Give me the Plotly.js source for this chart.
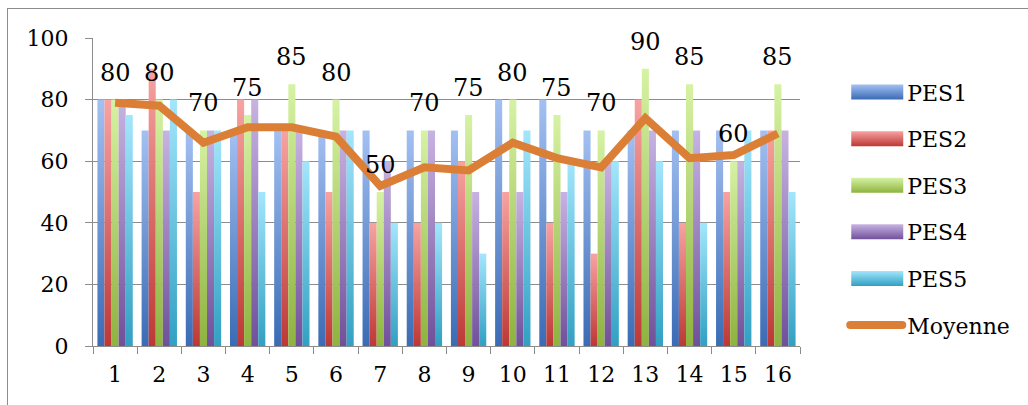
<!DOCTYPE html>
<html><head><meta charset="utf-8">
<script src="https://cdn.plot.ly/plotly-3.0.1.min.js"></script>
<style>
html,body{margin:0;padding:0;background:#fff;}
#frame{position:absolute;left:7px;top:8px;width:1030px;height:420px;border:1px solid #8c8c8c;box-sizing:border-box;}
#chart{position:absolute;left:0;top:0;width:1028px;height:405px;}
</style></head>
<body>
<div id="frame"></div>
<div id="chart"></div>
<script>
const categories = ['1','2','3','4','5','6','7','8','9','10','11','12','13','14','15','16'];
const PES1 = [80,70,70,70,70,70,70,70,70,80,80,70,70,70,70,70];
const PES2 = [80,90,50,80,70,50,40,40,60,50,40,30,80,40,50,70];
const PES3 = [80,80,70,75,85,80,50,70,75,80,75,70,90,85,60,85];
const PES4 = [80,70,70,80,70,70,60,70,50,50,50,60,70,70,60,70];
const PES5 = [75,80,70,50,60,70,40,40,30,70,60,60,60,40,70,50];
const Moyenne = [79,78,66,71,71,68,52,58,57,66,61,58,74,61,62,69];
const seriesNames = ['PES1','PES2','PES3','PES4','PES5'];
const seriesData = [PES1,PES2,PES3,PES4,PES5];
const gradTop = ['#a3c0f2','#f7a3a2','#d6f2a4','#c7b3e2','#a3e6fc'];
const gradBot = ['#3a6bb4','#bd3835','#8eb33f','#70509a','#31a0c2'];
const lineColor = '#dc7f36';

const FONT = 'DejaVu Serif';
const traces = seriesNames.map((n,i)=>({
  type:'bar', name:n, x:categories, y:seriesData[i],
  marker:{color:gradBot[i], line:{width:0}},
  legendgroup:n, hoverinfo:'skip'
}));
traces.push({
  type:'scatter', mode:'lines', name:'Moyenne', x:categories, y:Moyenne,
  line:{color:lineColor, width:8}, legendgroup:'Moyenne', hoverinfo:'skip'
});

const annotations = categories.map((c,i)=>({
  x:i, y:PES3[i], xref:'x', yref:'y', text:String(PES3[i]),
  showarrow:false, yshift:27, font:{family:FONT, size:24, color:'#000'}
}));

const layout = {
  width:1028, height:405,
  margin:{l:93, r:228, t:38, b:59},
  paper_bgcolor:'rgba(0,0,0,0)', plot_bgcolor:'rgba(0,0,0,0)',
  barmode:'group', bargap:0.2, bargroupgap:0,
  font:{family:FONT, size:22, color:'#000'},
  xaxis:{type:'category', range:[-0.5,15.5], showgrid:false, showline:true, linecolor:'#8c8c8c', linewidth:1,
    ticks:'outside', tickson:'boundaries', ticklen:7, tickcolor:'#8c8c8c',
    tickfont:{family:FONT, size:22}, zeroline:false, ticklabelstandoff:9},
  yaxis:{range:[0,100], tickvals:[0,20,40,60,80,100], showgrid:true, gridcolor:'#8c8c8c', gridwidth:1,
    showline:true, linecolor:'#8c8c8c', ticks:'outside', ticklen:7, tickcolor:'#8c8c8c',
    tickfont:{family:FONT, size:22}, zeroline:false, ticklabelstandoff:12},
  legend:{x:1.064, xanchor:'left', y:0.892, yanchor:'top', traceorder:'grouped', tracegroupgap:15,
    font:{family:FONT, size:22}, itemwidth:52, bgcolor:'rgba(0,0,0,0)'},
  annotations:annotations,
  showlegend:true
};

Plotly.newPlot('chart', traces, layout, {staticPlot:true}).then(gd=>{
  const svg = gd.querySelector('svg.main-svg');
  const NS = 'http://www.w3.org/2000/svg';
  let defs = svg.querySelector('defs');
  if(!defs){defs=document.createElementNS(NS,'defs');svg.insertBefore(defs,svg.firstChild);}
  seriesNames.forEach((n,i)=>{
    const g=document.createElementNS(NS,'linearGradient');
    g.setAttribute('id','grad'+i);g.setAttribute('x1','0');g.setAttribute('y1','0');g.setAttribute('x2','0');g.setAttribute('y2','1');
    const s1=document.createElementNS(NS,'stop');s1.setAttribute('offset','0');s1.setAttribute('stop-color',gradTop[i]);
    const s2=document.createElementNS(NS,'stop');s2.setAttribute('offset','1');s2.setAttribute('stop-color',gradBot[i]);
    g.appendChild(s1);g.appendChild(s2);defs.appendChild(g);
  });
  const barTraces = gd.querySelectorAll('.barlayer .trace');
  barTraces.forEach((t,i)=>{
    t.querySelectorAll('path').forEach(p=>{p.style.fill='url(#grad'+i+')';});
  });
  const legItems = gd.querySelectorAll('.legend .traces');
  legItems.forEach((it)=>{
    const nm = it.querySelector('.legendtext').textContent;
    const idx = seriesNames.indexOf(nm);
    if(idx>=0){
      const p = it.querySelector('.legendpoints path');
      if(p){
        p.setAttribute('d','M-25,-7.5H27V7.5H-25Z');
        p.style.fill='url(#grad'+idx+')';
        p.style.stroke='none';
      }
    } else {
      const p = it.querySelector('.legendlines path');
      if(p){ p.style.strokeLinecap='round'; }
    }
  });
});
</script>
</body></html>
